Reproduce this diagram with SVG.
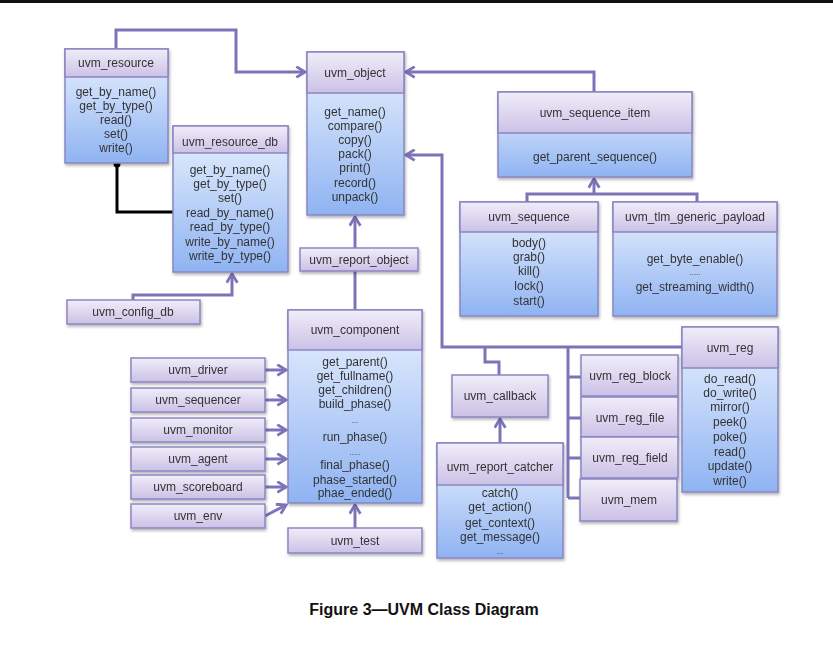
<svg xmlns="http://www.w3.org/2000/svg" width="833" height="666" viewBox="0 0 833 666">
<style>
.t{font-family:"Liberation Sans",Arial,sans-serif;font-size:12px;fill:#333;text-anchor:middle}
.cap{font-family:"Liberation Sans",Arial,sans-serif;font-size:16px;font-weight:bold;fill:#111;text-anchor:middle}
.hd{fill:url(#gh);stroke:#8a86c4;stroke-width:1.5}
.bd{fill:url(#gb);stroke:#8a86c4;stroke-width:1.5}
.c{fill:none;stroke:#7c74b8;stroke-width:3}
.a{fill:none;stroke:#7c74b8;stroke-width:3;marker-end:url(#arr)}
.n{filter:url(#sh)}
</style>
<defs>
<linearGradient id="gh" x1="0" y1="0" x2="0" y2="1"><stop offset="0" stop-color="#f1edf9"/><stop offset="1" stop-color="#cbc1e6"/></linearGradient>
<linearGradient id="gb" x1="0" y1="0" x2="0" y2="1"><stop offset="0" stop-color="#eaf2fe"/><stop offset="1" stop-color="#8fb3f2"/></linearGradient>
<filter id="sh" x="-10%" y="-10%" width="130%" height="130%"><feDropShadow dx="1" dy="2" stdDeviation="1.5" flood-color="#000" flood-opacity="0.3"/></filter>
<marker id="arr" viewBox="0 0 12 12" refX="10" refY="6" markerWidth="13" markerHeight="13" markerUnits="userSpaceOnUse" orient="auto"><path d="M2,1 L10,6 L2,11" fill="none" stroke="#7c74b8" stroke-width="2.6"/></marker>
</defs>
<rect x="0" y="0" width="833" height="666" fill="#fff"/>
<rect x="0" y="0" width="833" height="3" fill="#111"/>

<g id="connectors">
<path class="a" d="M116,49 V30 H236 V72 H305"/>
<path class="a" d="M133,300 V295 H232 V274"/>
<path class="a" d="M355,248 V217"/>
<path class="c" d="M355,271 V310"/>
<path class="a" d="M355,528 V505"/>
<path class="a" d="M265,370 H286"/>
<path class="a" d="M265,400 H286"/>
<path class="a" d="M265,430 H286"/>
<path class="a" d="M265,459 H286"/>
<path class="a" d="M265,487 H286"/>
<path class="a" d="M265,516 L286,505"/>
<path class="a" d="M594,92 V72 H406"/>
<path class="c" d="M527,202 V194 H697 V202"/>
<path class="a" d="M594,194 V179"/>
<path class="a" d="M682,347 H442 V155 H406"/>
<path class="c" d="M485,347 V362 H499 V375"/>
<path class="c" d="M568,347 V498 M568,377 H581 M568,418 H581 M568,458 H581 M568,498 H581"/>
<path class="a" d="M500,443 V419"/>
<path d="M173,212 H117 V164" fill="none" stroke="#000" stroke-width="3"/>
<circle cx="117" cy="164" r="3.5" fill="#000"/>
</g>

<g id="uvm_resource" class="n">
<rect class="bd" x="65" y="49" width="103" height="114"/>
<rect class="hd" x="65" y="49" width="103" height="28"/>
<text class="t" x="116" y="67">uvm_resource</text>
<text class="t" x="116" y="96">get_by_name()</text>
<text class="t" x="116" y="110">get_by_type()</text>
<text class="t" x="116" y="124">read()</text>
<text class="t" x="116" y="138">set()</text>
<text class="t" x="116" y="152">write()</text>
</g>

<g id="uvm_resource_db" class="n">
<rect class="bd" x="173" y="126" width="115" height="146"/>
<rect class="hd" x="173" y="126" width="115" height="27"/>
<text class="t" x="230" y="146">uvm_resource_db</text>
<text class="t" x="230" y="174">get_by_name()</text>
<text class="t" x="230" y="188">get_by_type()</text>
<text class="t" x="230" y="202">set()</text>
<text class="t" x="230" y="217">read_by_name()</text>
<text class="t" x="230" y="231">read_by_type()</text>
<text class="t" x="230" y="246">write_by_name()</text>
<text class="t" x="230" y="260">write_by_type()</text>
</g>

<g id="uvm_object" class="n">
<rect class="bd" x="307" y="52" width="97" height="163"/>
<rect class="hd" x="307" y="52" width="97" height="41"/>
<text class="t" x="355" y="77">uvm_object</text>
<text class="t" x="355" y="116">get_name()</text>
<text class="t" x="355" y="130">compare()</text>
<text class="t" x="355" y="144">copy()</text>
<text class="t" x="355" y="158">pack()</text>
<text class="t" x="355" y="172">print()</text>
<text class="t" x="355" y="187">record()</text>
<text class="t" x="355" y="201">unpack()</text>
</g>

<g id="uvm_report_object" class="n">
<rect class="hd" x="300" y="248" width="118" height="23"/>
<text class="t" x="359" y="264">uvm_report_object</text>
</g>

<g id="uvm_sequence_item" class="n">
<rect class="bd" x="498" y="92" width="194" height="85"/>
<rect class="hd" x="498" y="92" width="194" height="41"/>
<text class="t" x="595" y="117">uvm_sequence_item</text>
<text class="t" x="595" y="161">get_parent_sequence()</text>
</g>

<g id="uvm_sequence" class="n">
<rect class="bd" x="460" y="202" width="138" height="114"/>
<rect class="hd" x="460" y="202" width="138" height="30"/>
<text class="t" x="529" y="221">uvm_sequence</text>
<text class="t" x="529" y="247">body()</text>
<text class="t" x="529" y="261">grab()</text>
<text class="t" x="529" y="275">kill()</text>
<text class="t" x="529" y="290">lock()</text>
<text class="t" x="529" y="305">start()</text>
</g>

<g id="uvm_tlm_generic_payload" class="n">
<rect class="bd" x="613" y="202" width="164" height="114"/>
<rect class="hd" x="613" y="202" width="164" height="30"/>
<text class="t" x="695" y="221">uvm_tlm_generic_payload</text>
<text class="t" x="695" y="263">get_byte_enable()</text>
<text class="t" x="695" y="275" style="font-size:8px">.....</text>
<text class="t" x="695" y="291">get_streaming_width()</text>
</g>

<g id="uvm_config_db" class="n">
<rect class="hd" x="67" y="300" width="133" height="24"/>
<text class="t" x="133" y="316">uvm_config_db</text>
</g>

<g id="uvm_component" class="n">
<rect class="bd" x="288" y="310" width="134" height="193"/>
<rect class="hd" x="288" y="310" width="134" height="40"/>
<text class="t" x="355" y="334">uvm_component</text>
<text class="t" x="355" y="366">get_parent()</text>
<text class="t" x="355" y="380">get_fullname()</text>
<text class="t" x="355" y="394">get_children()</text>
<text class="t" x="355" y="408">build_phase()</text>
<text class="t" x="355" y="423" style="font-size:8px">...</text>
<text class="t" x="355" y="441">run_phase()</text>
<text class="t" x="355" y="455" style="font-size:8px">.....</text>
<text class="t" x="355" y="469">final_phase()</text>
<text class="t" x="355" y="484">phase_started()</text>
<text class="t" x="355" y="497">phae_ended()</text>
</g>

<g id="uvm_test" class="n">
<rect class="hd" x="288" y="528" width="134" height="25"/>
<text class="t" x="355" y="545">uvm_test</text>
</g>

<g id="uvm_driver" class="n"><rect class="hd" x="131" y="358" width="134" height="24"/><text class="t" x="198" y="374">uvm_driver</text></g>
<g id="uvm_sequencer" class="n"><rect class="hd" x="131" y="388" width="134" height="24"/><text class="t" x="198" y="404">uvm_sequencer</text></g>
<g id="uvm_monitor" class="n"><rect class="hd" x="131" y="418" width="134" height="24"/><text class="t" x="198" y="434">uvm_monitor</text></g>
<g id="uvm_agent" class="n"><rect class="hd" x="131" y="447" width="134" height="24"/><text class="t" x="198" y="463">uvm_agent</text></g>
<g id="uvm_scoreboard" class="n"><rect class="hd" x="131" y="475" width="134" height="24"/><text class="t" x="198" y="491">uvm_scoreboard</text></g>
<g id="uvm_env" class="n"><rect class="hd" x="131" y="504" width="134" height="24"/><text class="t" x="198" y="520">uvm_env</text></g>

<g id="uvm_callback" class="n">
<rect class="hd" x="452" y="375" width="96" height="42"/>
<text class="t" x="500" y="400">uvm_callback</text>
</g>

<g id="uvm_report_catcher" class="n">
<rect class="bd" x="437" y="443" width="126" height="115"/>
<rect class="hd" x="437" y="443" width="126" height="42"/>
<text class="t" x="500" y="471">uvm_report_catcher</text>
<text class="t" x="500" y="497">catch()</text>
<text class="t" x="500" y="511">get_action()</text>
<text class="t" x="500" y="527">get_context()</text>
<text class="t" x="500" y="541">get_message()</text>
<text class="t" x="500" y="554" style="font-size:8px">...</text>
</g>

<g id="uvm_reg_block" class="n"><rect class="hd" x="581" y="355" width="97" height="41"/><text class="t" x="630" y="380">uvm_reg_block</text></g>
<g id="uvm_reg_file" class="n"><rect class="hd" x="581" y="397" width="97" height="40"/><text class="t" x="630" y="422">uvm_reg_file</text></g>
<g id="uvm_reg_field" class="n"><rect class="hd" x="581" y="437" width="97" height="41"/><text class="t" x="630" y="462">uvm_reg_field</text></g>
<g id="uvm_mem" class="n"><rect class="hd" x="580" y="479" width="97" height="42"/><text class="t" x="629" y="504">uvm_mem</text></g>

<g id="uvm_reg" class="n">
<rect class="bd" x="682" y="327" width="96" height="165"/>
<rect class="hd" x="682" y="327" width="96" height="41"/>
<text class="t" x="730" y="352">uvm_reg</text>
<text class="t" x="730" y="383">do_read()</text>
<text class="t" x="730" y="397">do_write()</text>
<text class="t" x="730" y="411">mirror()</text>
<text class="t" x="730" y="426">peek()</text>
<text class="t" x="730" y="441">poke()</text>
<text class="t" x="730" y="456">read()</text>
<text class="t" x="730" y="470">update()</text>
<text class="t" x="730" y="485">write()</text>
</g>

<text class="cap" x="424" y="615">Figure 3—UVM Class Diagram</text>
</svg>
